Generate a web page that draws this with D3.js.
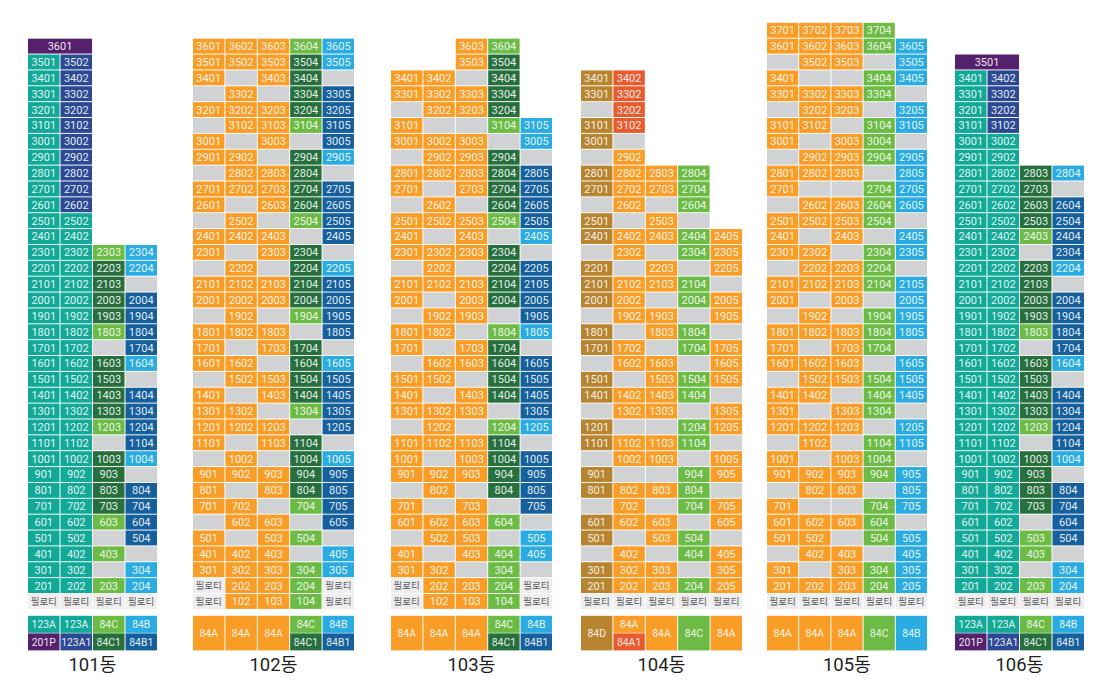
<!DOCTYPE html>
<html>
<head>
<meta charset="utf-8">
<script src="https://cdn.jsdelivr.net/npm/d3@7"></script>
<style>
  html, body { margin: 0; padding: 0; background: #fff; }
  svg { display: block; }
  text { font-family: Roboto, "Noto Sans CJK KR", sans-serif; }
</style>
</head>
<body>
<script>
// unit type codes: T 123A, N 123A1, P 201P, O 84A, R 84A1, G 84C, D 84C1, B 84B, S 84B1, K 84D
// "." = no unit shown (grey), "p" = pilotis, " " = nothing on that floor
var names = ["101동", "102동", "103동", "104동", "105동", "106동"];
var topFloors = [36, 36, 36, 34, 37, 35];

var rows101 = [
  "PP  ", "TN  ", "TN  ", "TN  ", "TN  ", "TN  ", "TN  ", "TN  ", "TN  ", "TN  ", "TN  ", "TT  ", "TT  ",
  "TTGB", "TTDB", "TTD.", "TTDS", "TTDS", "TTGS", "TT.S", "TTDB", "TTD.", "TTDS", "TTDS", "TTGS", "TT.S",
  "TTDB", "TTD.", "TTDS", "TTDS", "TTGS", "TT.S", "TTG.", "TT.B", "TTGB", "pppp"
];
var rows102 = [
  "OOOGB", "OOODB", "O.OD.", ".O.DS", "OOODS", ".OOGS", "O.O.S", "OO.DB", ".OOD.", "OOODS", "O.ODS", ".O.GS",
  "OOO.S", "O.OD.", ".O.DB", "OOODS", "OOODS", ".O.GS", "OOO.S", "O.OD.", "OO.DB", ".OODS", "O.ODS", "OO.GS",
  "OOO.S", "O.OD.", ".O.DB", "OOODS", "O.ODS", "OO.GS", ".OO.S", "O.OG.", "OOO.B", "OOOGB", "pOOGp", "pOOGp"
];
var rows103 = [
  "  OG ", "  OD ", "OO.D ", "OOOD ", ".OOD ", "O..GB", "OOO.B", ".OOD.", "OOODS", "O.ODS", ".O.DS", "OOOGS",
  "O.O.B", "OOOD.", ".O.DS", "OOODS", "O.ODS", ".OO.S", "OO.GB", "O.OD.", ".OODS", "OO.DS", "O.ODS", "OOO.S",
  ".O.GB", "OOOD.", "O.ODS", "OOODS", ".O.DS", "O.O.S", "OOOG.", ".OO.B", "O.OGB", "OO.G.", "pOOGp", "pOOGp"
];
var rows104 = [
  "KR   ", "KR   ", ".R   ", "KR   ", "K.   ", ".O   ", "KOOG ", "KOOG ", ".O.G ", "K.O. ", "KOOGO", ".O.GO",
  "K.O.O", "KOOG.", "KO.GO", ".OO.O", "K.OG.", "KO.GO", ".OO.O", "K.OGO", "KOOG.", ".OO.O", "K..GO", "KOOG.",
  ".OO.O", "K..GO", "KOOG.", ".O.GO", "KOO.O", "K.OG.", ".O.GO", "KOO.O", "KOOGO", "ppppp"
];
var rows105 = [
  "OOOG ", "OOOGB", ".OO.B", "O..GB", "OOOG.", ".OO.B", "OO.GB", "O.OG.", ".OOGB", "OOO.B", "O..GB", ".OOGB",
  "OOOG.", "O.O.B", "OO.GB", ".OOG.", "OOOGB", "O.O.B", ".O.GB", "OOOGB", "O.OG.", "OOO.B", ".OOGB", "OO.GB",
  "O.OG.", "OOO.B", ".O.GB", "O.OG.", "OOOGB", ".OO.B", "O..GB", "OOOG.", "OO.GB", ".OO.B", "O.OGB", "OOOGB",
  "ppppp"
];
var rows106 = [
  "PP  ", "TN  ", "TN  ", "TN  ", "TN  ", "TT  ", "TT  ", "TTDB", "TTD.", "TTDS", "TTDS", "TTGS", "TT.S",
  "TTDB", "TTD.", "TTDS", "TTDS", "TTGS", "TT.S", "TTDB", "TTD.", "TTDS", "TTDS", "TTGS", "TT.S", "TTDB",
  "TTD.", "TTDS", "TTDS", "TT.S", "TTGS", "TTG.", "TT.B", "TTGB", "pppp"
];

// legend cells per column, "label:code"; a column with one entry fills both rows
var legend101 = [["123A:T", "201P:P"], ["123A:T", "123A1:N"], ["84C:G", "84C1:D"], ["84B:B", "84B1:S"]];
var legend102 = [["84A:O"], ["84A:O"], ["84A:O"], ["84C:G", "84C1:D"], ["84B:B", "84B1:S"]];
var legend103 = [["84A:O"], ["84A:O"], ["84A:O"], ["84C:G", "84C1:D"], ["84B:B", "84B1:S"]];
var legend104 = [["84D:K"], ["84A:O", "84A1:R"], ["84A:O"], ["84C:G"], ["84A:O"]];
var legend105 = [["84A:O"], ["84A:O"], ["84A:O"], ["84C:G"], ["84B:B"]];
var legend106 = [["123A:T", "201P:P"], ["123A:T", "123A1:N"], ["84C:G", "84C1:D"], ["84B:B", "84B1:S"]];

var allRows = [rows101, rows102, rows103, rows104, rows105, rows106];
var allLegends = [legend101, legend102, legend103, legend104, legend105, legend106];

var colors = {
  T: "#12a998", N: "#2c4a93", P: "#55216d", O: "#f99d27", R: "#e95b2d", G: "#6cbb45",
  D: "#27703e", B: "#2aace2", S: "#17609e", K: "#b8842f", ".": "#d1d2d4", p: "#eeeeef"
};

var width = 1106, height = 686;
var blockSpans = [[28, 157], [193, 354], [391, 552], [581, 742], [767, 927], [955, 1084]];

var svg = d3.select("body").append("svg")
  .attr("width", width)
  .attr("height", height);

var floorDomain = d3.range(37, 0, -1);
var y = d3.scaleBand().domain(floorDomain).range([22.8, 608.9]).paddingInner(0.06).paddingOuter(0);
var legendY = d3.scaleBand().domain([0, 1]).range([615.8, 650.4]).paddingInner(0.03);

names.forEach(function (name, b) {
  var rows = allRows[b], top = topFloors[b], nCols = rows[0].length,
    g = svg.append("g").attr("class", "block"),
    cells = [], x;

  x = d3.scaleBand().domain(d3.range(nCols)).range(blockSpans[b]).paddingInner(0.03).paddingOuter(0);

  rows.forEach(function (row, r) {
    var floor = top - r;
    row.split("").forEach(function (code, c) {
      if (code === " ") return;
      if (code === "P" && c > 0) return; // penthouse is one cell over two columns
      var isP = code === "P";
      cells.push({
        floor: floor, col: c, code: code, span: isP ? 2 : 1,
        label: code === "p" ? "필로티" : code === "." ? "" : isP ? String(floor * 100 + 1) : String(floor * 100 + c + 1)
      });
    });
  });

  function cellW(d) { return x.bandwidth() * d.span + (d.span - 1) * (x.step() - x.bandwidth()); }

  g.selectAll("rect.unit").data(cells).enter().append("rect")
    .attr("class", "unit")
    .attr("x", function (d) { return x(d.col); })
    .attr("y", function (d) { return y(d.floor); })
    .attr("width", cellW)
    .attr("height", y.bandwidth())
    .attr("fill", function (d) { return colors[d.code]; });

  g.selectAll("text.unit").data(cells.filter(function (d) { return d.label; })).enter().append("text")
    .attr("class", "unit")
    .attr("x", function (d) { return x(d.col) + cellW(d) / 2; })
    .attr("y", function (d) { return y(d.floor) + y.bandwidth() / 2; })
    .attr("dy", "0.36em")
    .attr("text-anchor", "middle")
    .attr("font-size", function (d) { return d.code === "p" ? 9.5 : 11; })
    .attr("fill", function (d) { return d.code === "p" ? "#58595b" : "#fff"; })
    .attr("fill-opacity", function (d) { return d.code === "p" ? 1 : 0.9; })
    .text(function (d) { return d.label; });

  // legend under the block
  var legendCells = [];
  allLegends[b].forEach(function (col, c) {
    col.forEach(function (entry, i) {
      var parts = entry.split(":");
      legendCells.push({ col: c, row: i, full: col.length === 1, label: parts[0], code: parts[1] });
    });
  });

  function legH(d) { return d.full ? legendY.range()[1] - legendY.range()[0] : legendY.bandwidth(); }
  function legTop(d) { return d.full ? legendY.range()[0] : legendY(d.row); }

  g.selectAll("rect.legend").data(legendCells).enter().append("rect")
    .attr("class", "legend")
    .attr("x", function (d) { return x(d.col); })
    .attr("y", legTop)
    .attr("width", x.bandwidth())
    .attr("height", legH)
    .attr("fill", function (d) { return colors[d.code]; });

  g.selectAll("text.legend").data(legendCells).enter().append("text")
    .attr("class", "legend")
    .attr("x", function (d) { return x(d.col) + x.bandwidth() / 2; })
    .attr("y", function (d) { return legTop(d) + legH(d) / 2; })
    .attr("dy", "0.36em")
    .attr("text-anchor", "middle")
    .attr("font-size", 10.4)
    .attr("fill", "#fff")
    .attr("fill-opacity", 0.9)
    .text(function (d) { return d.label; });

  g.append("text")
    .attr("x", (blockSpans[b][0] + blockSpans[b][1]) / 2)
    .attr("y", 671)
    .attr("text-anchor", "middle")
    .attr("font-size", 18.5)
    .attr("fill", "#231f20")
    .text(name);
});
</script>
</body>
</html>
